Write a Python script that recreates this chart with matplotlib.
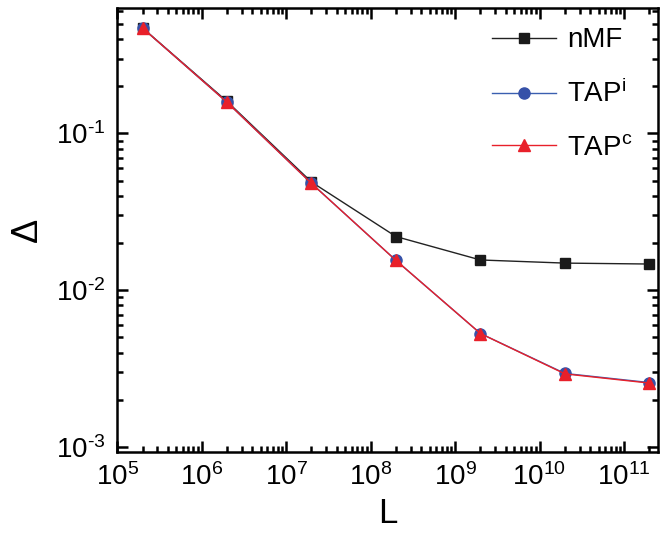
import numpy as np
import matplotlib.pyplot as plt
from matplotlib.ticker import LogLocator, NullFormatter, FuncFormatter

plt.rcParams['font.family'] = ['Liberation Sans', 'DejaVu Sans']
plt.rcParams['mathtext.fontset'] = 'custom'
plt.rcParams['mathtext.rm'] = 'Liberation Sans'
plt.rcParams['mathtext.it'] = 'Liberation Sans'
plt.rcParams['mathtext.default'] = 'regular'

# data
L = [2e5, 2e6, 2e7, 2e8, 2e9, 2e10, 2e11]
delta_nmf = [0.47, 0.160, 0.049, 0.0220, 0.0156, 0.0149, 0.0147]
delta_tap_i = [0.47, 0.158, 0.048, 0.0155, 0.0053, 0.00295, 0.00258]
delta_tap_c = [0.47, 0.158, 0.048, 0.0155, 0.0053, 0.00293, 0.00256]


def pow10(v, pos):
    e = int(round(np.log10(v)))
    if e < 0:
        return r'$10^{\text{-}%d}$' % (-e)
    return r'$10^{%d}$' % e


fig = plt.figure(figsize=(6.69, 5.35), dpi=100)
ax = fig.add_axes([0.175, 0.155, 0.808, 0.83])

ax.plot(L, delta_nmf, '-', color='#222222', lw=1.0, marker='s', ms=7,
        mfc='#1a1a1a', mec='#1a1a1a', label='nMF')
ax.plot(L, delta_tap_i, '-', color='#3a5fb0', lw=1.0, marker='o', ms=8,
        mfc='#3651a8', mec='#3651a8', label='TAP$^{i}$')
ax.plot(L, delta_tap_c, '-', color='#e8202a', lw=1.0, marker='^', ms=8.5,
        mfc='#e8202a', mec='#e8202a', label='TAP$^{c}$')

ax.set_xscale('log')
ax.set_yscale('log')
ax.set_xlim(1e5, 2.5e11)
ax.set_ylim(9.3e-4, 0.63)

ax.xaxis.set_major_locator(LogLocator(base=10, numticks=20))
ax.xaxis.set_minor_locator(LogLocator(base=10, subs=np.arange(2, 10), numticks=20))
ax.yaxis.set_minor_locator(LogLocator(base=10, subs=np.arange(2, 10), numticks=20))
ax.xaxis.set_major_formatter(FuncFormatter(pow10))
ax.yaxis.set_major_formatter(FuncFormatter(pow10))
ax.xaxis.set_minor_formatter(NullFormatter())
ax.yaxis.set_minor_formatter(NullFormatter())

ax.tick_params(which='both', direction='in', top=True, right=True, width=1.8)
ax.tick_params(which='major', length=8, labelsize=20, pad=8)
ax.tick_params(which='minor', length=4.5)
for s in ax.spines.values():
    s.set_linewidth(1.8)

ax.set_xlabel('L', fontsize=25, labelpad=4)
ax.set_ylabel('Δ', fontsize=26, labelpad=8)

ax.legend(loc='upper right', frameon=False, fontsize=20, handlelength=2.3,
          labelspacing=0.95, borderaxespad=0.3, handletextpad=0.4,
          bbox_to_anchor=(0.99, 1.0))

fig.savefig('out.png', dpi=100)
